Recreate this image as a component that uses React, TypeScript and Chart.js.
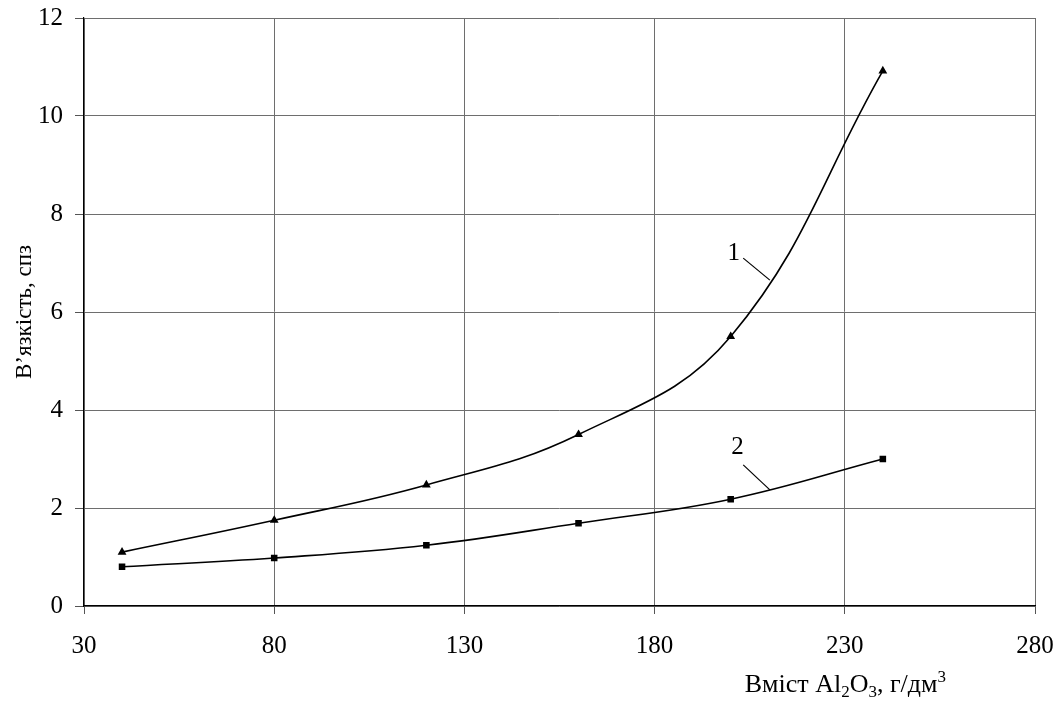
import React, { useEffect, useRef } from "react";
import { Chart, registerables } from "chart.js";

Chart.register(...registerables);

const xValues = [40, 80, 120, 160, 200, 240];
const series1 = [1.1, 1.75, 2.47, 3.5, 5.5, 10.92];
const series2 = [0.8, 0.98, 1.24, 1.69, 2.18, 3.0];
const xTicks = [30, 80, 130, 180, 230, 280];
const yTicks = [0, 2, 4, 6, 8, 10, 12];
const curveLabels = ["1", "2"];
// label anchor (data units) and leader line start/end (data units)
const labelPos = [
  { x: 200.8, y: 7.2 },
  { x: 201.8, y: 3.24 },
];
const leaderStart = [
  { x: 203.3, y: 7.1 },
  { x: 203.3, y: 2.88 },
];
const leaderEnd = [
  { x: 210.3, y: 6.65 },
  { x: 210.3, y: 2.37 },
];
const yTitle = "В’язкість, спз";

const FONT = '"Liberation Serif", "Times New Roman", serif';

const annotPlugin = {
  id: "annot",
  afterDraw(chart: any) {
    const ctx = chart.ctx;
    const xs = chart.scales.x;
    const ys = chart.scales.y;
    ctx.save();
    ctx.fillStyle = "#000";
    ctx.strokeStyle = "#000";
    ctx.lineWidth = 1.2;
    // curve labels and leaders
    ctx.font = `25px ${FONT}`;
    ctx.textAlign = "center";
    ctx.textBaseline = "middle";
    for (let i = 0; i < curveLabels.length; i++) {
      ctx.fillText(curveLabels[i], xs.getPixelForValue(labelPos[i].x), ys.getPixelForValue(labelPos[i].y));
      ctx.beginPath();
      ctx.moveTo(xs.getPixelForValue(leaderStart[i].x), ys.getPixelForValue(leaderStart[i].y));
      ctx.lineTo(xs.getPixelForValue(leaderEnd[i].x), ys.getPixelForValue(leaderEnd[i].y));
      ctx.stroke();
    }
    // y title
    ctx.save();
    ctx.translate(25, (chart.chartArea.top + chart.chartArea.bottom) / 2);
    ctx.rotate(-Math.PI / 2);
    ctx.font = `23px ${FONT}`;
    ctx.textAlign = "center";
    ctx.textBaseline = "middle";
    ctx.fillText(yTitle, 0, 0);
    ctx.restore();
    // x title with sub/superscripts
    const parts: [string, string][] = [
      ["Вміст Al", "n"],
      ["2", "sub"],
      ["O", "n"],
      ["3", "sub"],
      [", г/дм", "n"],
      ["3", "sup"],
    ];
    const base = 26;
    const small = 17;
    ctx.textAlign = "left";
    ctx.textBaseline = "alphabetic";
    let total = 0;
    for (const [t, k] of parts) {
      ctx.font = `${k === "n" ? base : small}px ${FONT}`;
      total += ctx.measureText(t).width;
    }
    let x = 946 - total;
    const baseline = 692;
    for (const [t, k] of parts) {
      ctx.font = `${k === "n" ? base : small}px ${FONT}`;
      const dy = k === "sub" ? 5 : k === "sup" ? -10 : 0;
      ctx.fillText(t, x, baseline + dy);
      x += ctx.measureText(t).width;
    }
    ctx.restore();
  },
};

export default function App() {
  const ref = useRef<HTMLCanvasElement>(null);
  useEffect(() => {
    if (!ref.current) return;
    const chart = new Chart(ref.current, {
      type: "line",
      data: {
        datasets: [
          {
            label: "1",
            data: xValues.map((x, i) => ({ x, y: series1[i] })),
            borderColor: "#000",
            backgroundColor: "#000",
            borderWidth: 1.6,
            pointStyle: "triangle",
            pointRadius: 3.5,
            tension: 0.4,
          },
          {
            label: "2",
            data: xValues.map((x, i) => ({ x, y: series2[i] })),
            borderColor: "#000",
            backgroundColor: "#000",
            borderWidth: 1.6,
            pointStyle: "rect",
            pointRadius: 3.5,
            tension: 0.4,
          },
        ],
      },
      options: {
        animation: false,
        responsive: false,
        layout: { padding: { top: 18, right: 23, left: 0, bottom: 0 } },
        plugins: { legend: { display: false }, tooltip: { enabled: false } },
        scales: {
          x: {
            type: "linear",
            min: 30,
            max: 280,
            afterBuildTicks: (s: any) => {
              s.ticks = xTicks.map((v) => ({ value: v }));
            },
            afterFit: (s: any) => {
              s.height = 98;
              s.paddingLeft = 0;
              s.paddingRight = 0;
            },
            grid: { color: "#6e6e6e", lineWidth: 1, tickLength: 8, tickColor: "#555" },
            border: { color: "#000", width: 1.2 },
            ticks: { color: "#000", font: { family: FONT, size: 25 }, padding: 17, maxRotation: 0 },
          },
          y: {
            min: 0,
            max: 12,
            afterBuildTicks: (s: any) => {
              s.ticks = yTicks.map((v) => ({ value: v }));
            },
            afterFit: (s: any) => {
              s.width = 84;
              s.paddingTop = 0;
              s.paddingBottom = 0;
            },
            grid: { color: "#6e6e6e", lineWidth: 1, tickLength: 9, tickColor: "#555" },
            border: { color: "#000", width: 1.2 },
            ticks: { color: "#000", font: { family: FONT, size: 25 }, padding: 12 },
          },
        },
      },
      plugins: [annotPlugin],
    } as any);
    return () => chart.destroy();
  }, []);
  return (
    <div style={{ position: "fixed", left: 0, top: 0, width: 1058, height: 704, background: "#fff" }}>
      <canvas ref={ref} width={1058} height={704} style={{ width: 1058, height: 704 }} />
    </div>
  );
}
